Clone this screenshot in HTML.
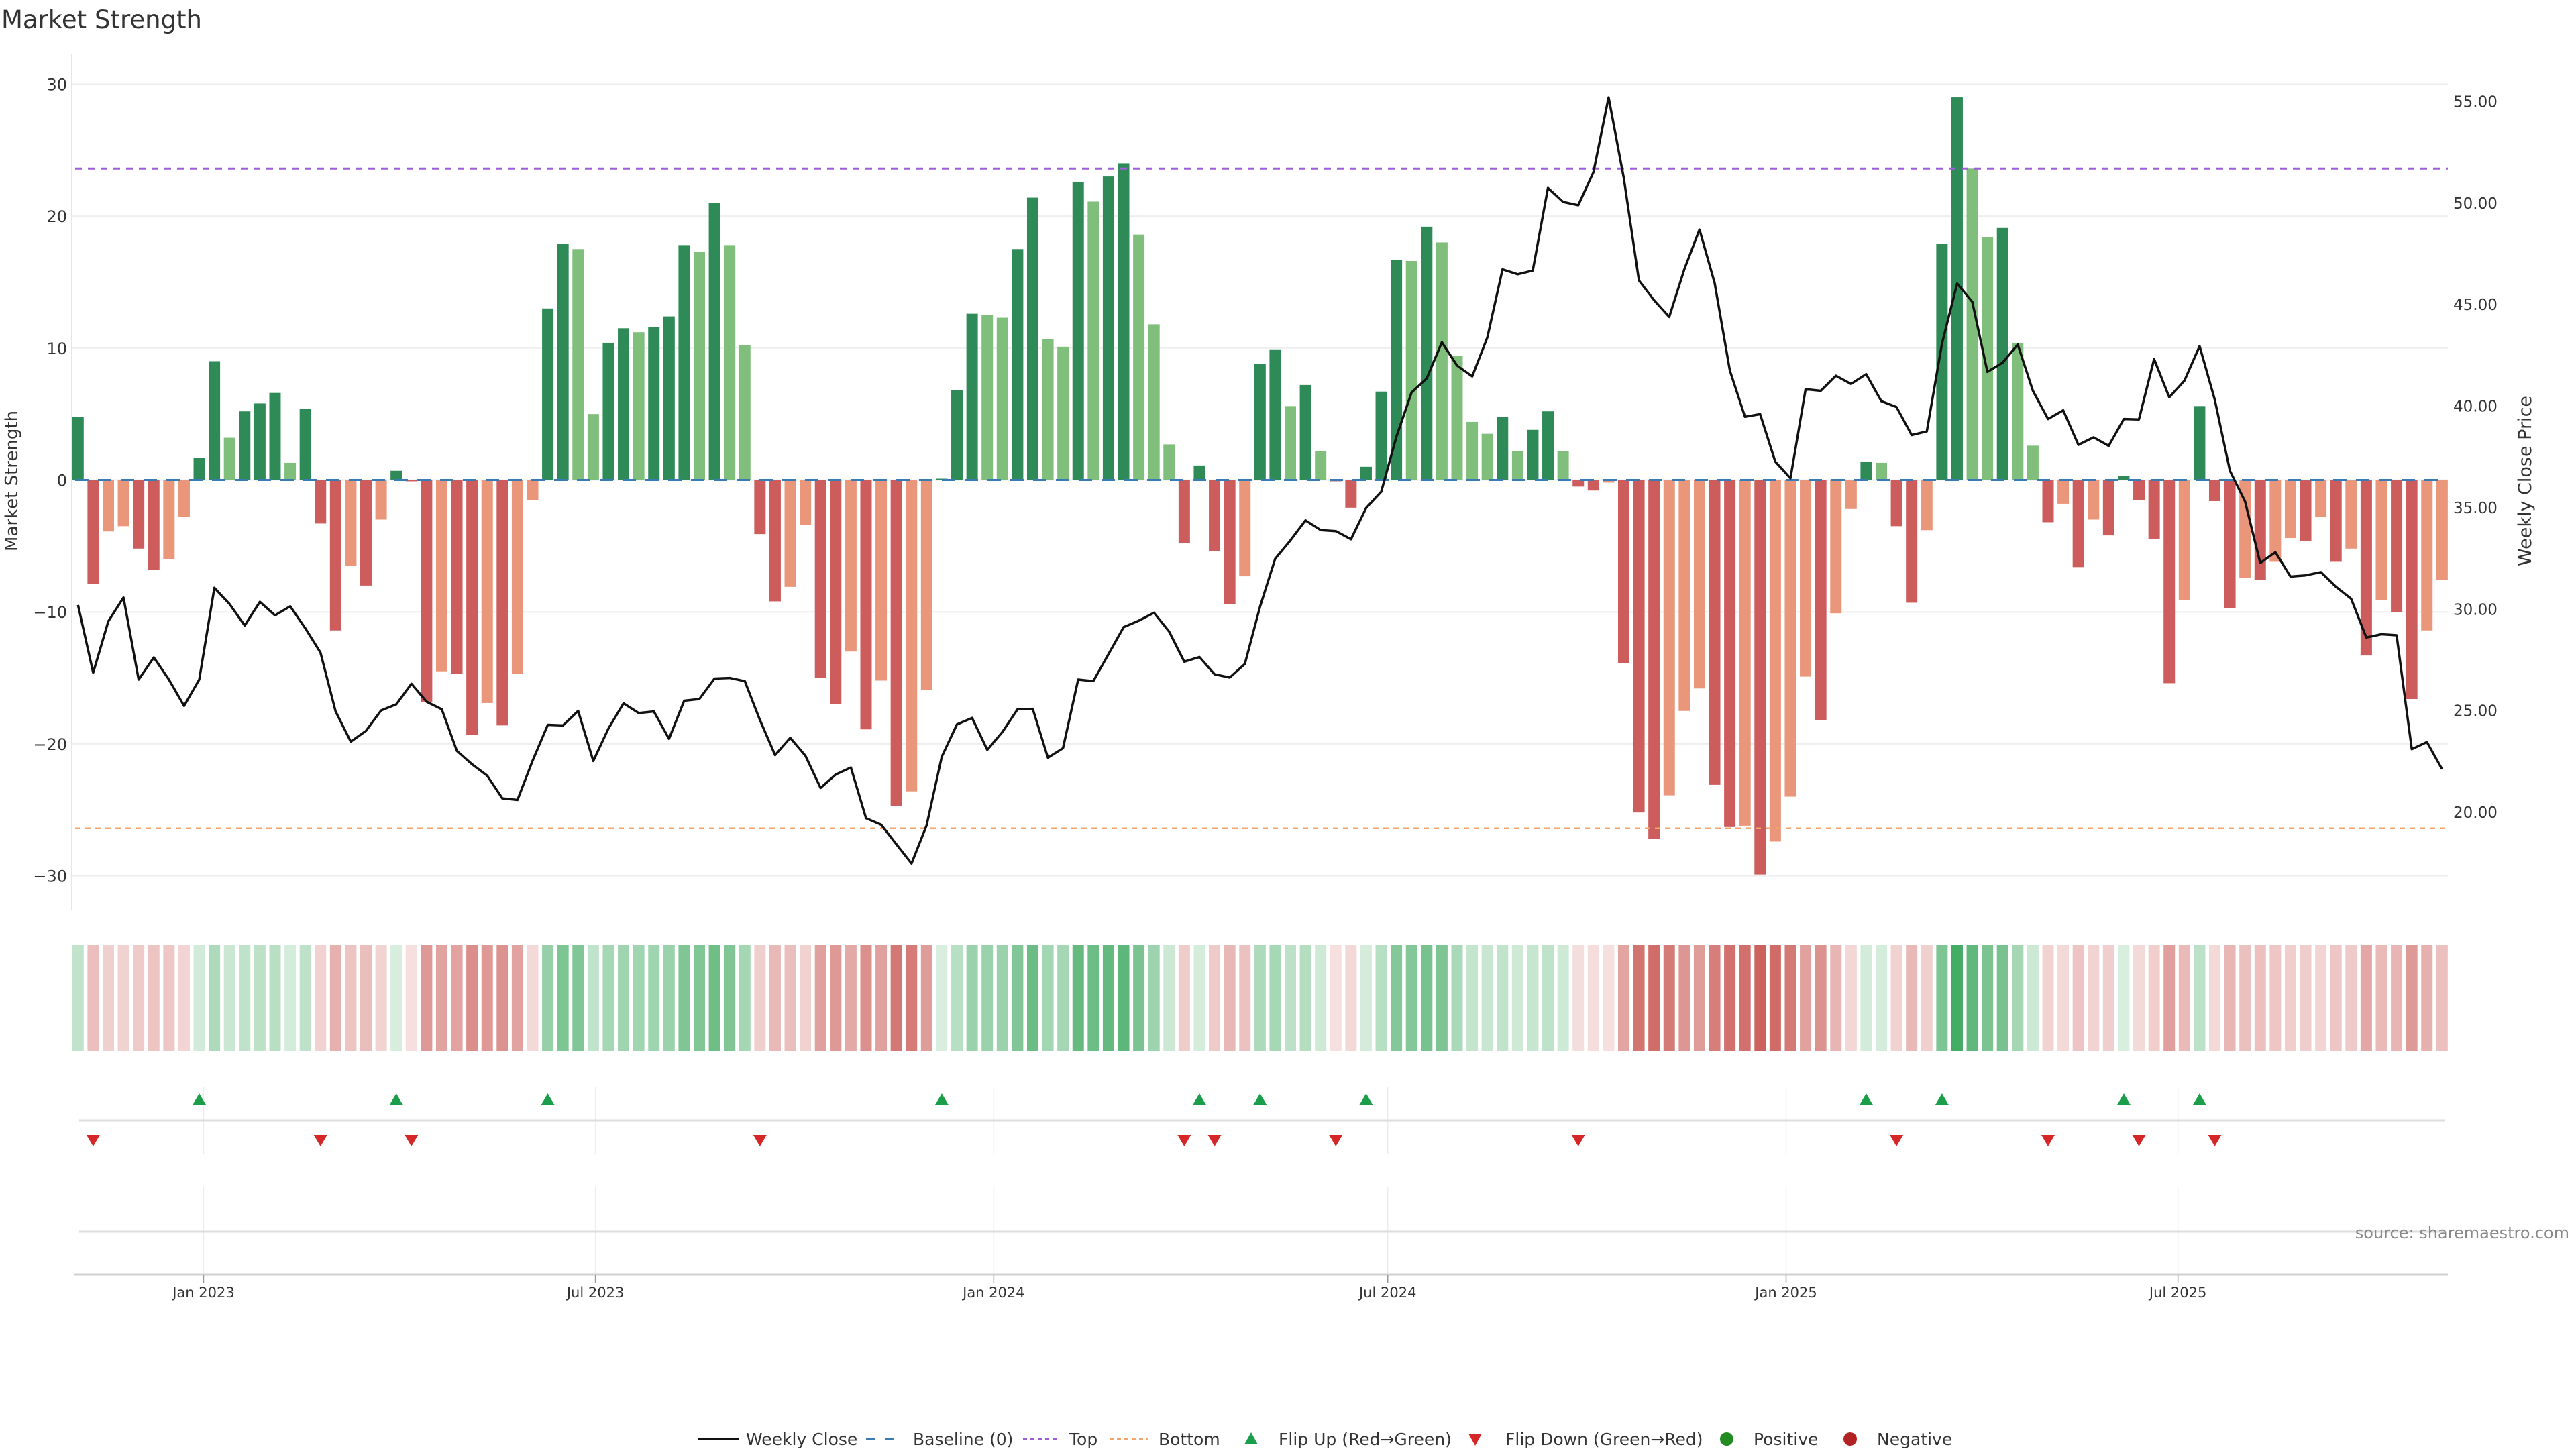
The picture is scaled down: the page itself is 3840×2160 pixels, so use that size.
<!DOCTYPE html>
<html>
<head>
<meta charset="utf-8">
<style>
  html,body{margin:0;padding:0;background:#fff;}
  svg{display:block;font-family:"DejaVu Sans","Liberation Sans",sans-serif;}
</style>
</head>
<body>
<svg id="chart" width="3840" height="2160" viewBox="0 0 3840 2160" xmlns="http://www.w3.org/2000/svg">
  <rect x="0" y="0" width="3840" height="2160" fill="#ffffff"/>
  <text x="2" y="42" font-size="37" fill="#333">Market Strength</text>
  <g id="grid"></g>
  <g id="heat"></g>
  <g id="bars"></g>
  <g id="refs"></g>
  <g id="line"></g>
  <g id="flips"></g>
  <g id="axes"></g>
  <text x="3830" y="1846" font-size="24" fill="#888" text-anchor="end">source: sharemaestro.com</text>
  <g id="legend"></g>
</svg>
<script>
// ---- data ----
const startDate = "2022-11-04";
const strength = [
 4.8,-7.9,-3.9,-3.5,-5.2,-6.8,-6.0,-2.8,1.7,9.0,
 3.2,5.2,5.8,6.6,1.3,5.4,-3.3,-11.4,-6.5,-8.0,
 -3.0,0.7,-0.1,-16.8,-14.5,-14.7,-19.3,-16.9,-18.6,-14.7,
 -1.5,13.0,17.9,17.5,5.0,10.4,11.5,11.2,11.6,12.4,
 17.8,17.3,21.0,17.8,10.2,-4.1,-9.2,-8.1,-3.4,-15.0,
 -17.0,-13.0,-18.9,-15.2,-24.7,-23.6,-15.9,0.1,6.8,12.6,
 12.5,12.3,17.5,21.4,10.7,10.1,22.6,21.1,23.0,24.0,
 18.6,11.8,2.7,-4.8,1.1,-5.4,-9.4,-7.3,8.8,9.9,
 5.6,7.2,2.2,-0.1,-2.1,1.0,6.7,16.7,16.6,19.2,
 18.0,9.4,4.4,3.5,4.8,2.2,3.8,5.2,2.2,-0.5,
 -0.8,-0.2,-13.9,-25.2,-27.2,-23.9,-17.5,-15.8,-23.1,-26.3,
 -26.2,-29.9,-27.4,-24.0,-14.9,-18.2,-10.1,-2.2,1.4,1.3,
 -3.5,-9.3,-3.8,17.9,29.0,23.6,18.4,19.1,10.4,2.6,
 -3.2,-1.8,-6.6,-3.0,-4.2,0.3,-1.5,-4.5,-15.4,-9.1,
 5.6,-1.6,-9.7,-7.4,-7.6,-6.2,-4.4,-4.6,-2.8,-6.2,
 -5.2,-13.3,-9.1,-10.0,-16.6,-11.4,-7.6
];
const closePrice = [
 30.21,26.88,29.41,30.58,26.54,27.63,26.54,25.24,26.54,31.06,
 30.26,29.20,30.37,29.70,30.15,29.06,27.87,24.97,23.48,24.01,
 25.02,25.32,26.33,25.45,25.08,23.03,22.37,21.81,20.69,20.61,
 22.55,24.31,24.28,25.00,22.53,24.12,25.37,24.89,24.97,23.62,
 25.50,25.58,26.59,26.62,26.46,24.55,22.82,23.67,22.79,21.20,
 21.86,22.21,19.71,19.39,18.43,17.48,19.36,22.74,24.33,24.65,
 23.08,23.96,25.08,25.10,22.69,23.16,26.54,26.46,27.79,29.12,
 29.44,29.83,28.90,27.42,27.65,26.80,26.64,27.31,30.13,32.49,
 33.39,34.38,33.90,33.85,33.45,34.99,35.79,38.50,40.68,41.37,
 43.15,42.00,41.47,43.39,46.74,46.50,46.68,50.75,50.06,49.90,
 51.52,55.21,51.25,46.20,45.22,44.40,46.74,48.70,46.07,41.77,
 39.48,39.61,37.27,36.45,40.84,40.76,41.50,41.10,41.58,40.25,
 39.96,38.58,38.76,43.09,46.04,45.14,41.69,42.14,43.04,40.76,
 39.37,39.80,38.10,38.47,38.05,39.37,39.35,42.32,40.44,41.26,
 42.96,40.33,36.82,35.31,32.28,32.81,31.61,31.67,31.83,31.11,
 30.52,28.61,28.77,28.72,23.11,23.46,22.13
];
const leftTicks = [30,20,10,0,-10,-20,-30];
const leftTickLabels = ["30","20","10","0","\u221210","\u221220","\u221230"];
const rightTicks = [55,50,45,40,35,30,25,20];
const rightTickLabels = ["55.00","50.00","45.00","40.00","35.00","30.00","25.00","20.00"];
const xTickDates = ["2023-01-01","2023-07-01","2024-01-01","2024-07-01","2025-01-01","2025-07-01"];
const xTickLabels = ["Jan 2023","Jul 2023","Jan 2024","Jul 2024","Jan 2025","Jul 2025"];
const topLevel = 23.6;
const bottomLevel = -26.4;

// ---- scales ----
const NS = "http://www.w3.org/2000/svg";
const X0 = 116.3, STEP = 22.59, BW = 17;
const PL = 107, PR = 3649;
function xIdx(i){ return X0 + STEP*i; }
function xDate(d){ const days=(new Date(d+"T00:00:00Z")-new Date(startDate+"T00:00:00Z"))/86400000; return X0 + days/7*STEP; }
function yL(v){ return 715.5 - 19.67*v; }
function yR(p){ return 151.5 + (55-p)*30.27; }
function mk(tag, attrs, parent){ const e=document.createElementNS(NS,tag); for(const k in attrs) e.setAttribute(k,attrs[k]); parent.appendChild(e); return e; }

const grid=document.getElementById('grid'), bars=document.getElementById('bars'), heat=document.getElementById('heat');
const refs=document.getElementById('refs'), lineG=document.getElementById('line'), flips=document.getElementById('flips');
const axes=document.getElementById('axes'), legend=document.getElementById('legend');

// grid & left ticks
leftTicks.forEach((v,k)=>{
  const g=mk('line',{x1:PL,x2:PR,y1:yL(v),y2:yL(v),stroke:'#eeeeee','stroke-width':2},grid);
  
  
  const t=mk('text',{x:100,y:yL(v)+9,'font-size':24,fill:'#333','text-anchor':'end'},axes);
  t.textContent=leftTickLabels[k];
  
  
});
rightTicks.forEach((p,k)=>{
  const t=mk('text',{x:3657,y:yR(p)+8,'font-size':23,fill:'#333'},axes);
  t.textContent=rightTickLabels[k];
  
  
});
const la=mk('line',{x1:PL,x2:PL,y1:80,y2:1356,stroke:'#e6e6e6','stroke-width':2},axes);


const lt=mk('text',{x:0,y:0,'font-size':26,fill:'#333','text-anchor':'middle',transform:'translate(26,717) rotate(-90)'},axes);
lt.textContent='Market Strength';


const rt=mk('text',{x:0,y:0,'font-size':27,fill:'#333','text-anchor':'middle',transform:'translate(3773,717) rotate(-90)'},axes);
rt.textContent='Weekly Close Price';



// bars + heatmap
strength.forEach((v,i)=>{
  const prev = i>0 ? strength[i-1] : null;
  const flip = prev===null || (prev>=0)!==(v>=0);
  const strong = flip || Math.abs(v) >= Math.abs(prev);
  let col;
  if(v>=0) col = strong ? '#2e8b57' : '#7fbf7b'; else col = strong ? '#cd5c5c' : '#e9967a';
  const y0=yL(0), y1=yL(v);
  const b=mk('rect',{x:xIdx(i)-BW/2,y:Math.min(y0,y1),width:BW,height:Math.max(1,Math.abs(y1-y0)),fill:col},bars);
  
  
  const a = Math.min(0.95, 0.18 + 0.75*Math.abs(v)/30);
  const hc = v>=0 ? 'rgba(49,163,84,'+a.toFixed(3)+')' : 'rgba(200,85,80,'+a.toFixed(3)+')';
  const h=mk('rect',{x:xIdx(i)-BW/2,y:1408,width:BW,height:158,fill:hc},heat);
  
  
  if(i>0 && flip){
    const cx=xIdx(i);
    if(v>=0){
      const tr=mk('polygon',{points:(cx-10)+','+1647+' '+(cx+10)+','+1647+' '+cx+','+1630,fill:'#1a9e4a'},flips);
      
      
    } else {
      const tr=mk('polygon',{points:(cx-10)+','+1692+' '+(cx+10)+','+1692+' '+cx+','+1709,fill:'#d62728'},flips);
      
      
    }
  }
});

// reference lines
const bl=mk('line',{x1:PL+5,x2:PR-5,y1:yL(0),y2:yL(0),stroke:'#3b7bb5','stroke-width':3,'stroke-dasharray':'20 14'},refs);


const tl=mk('line',{x1:PL+5,x2:PR,y1:yL(topLevel),y2:yL(topLevel),stroke:'#9b5fd8','stroke-width':3,'stroke-dasharray':'10 9'},refs);


const bt=mk('line',{x1:PL+5,x2:PR,y1:yL(bottomLevel),y2:yL(bottomLevel),stroke:'#f4a46a','stroke-width':2.5,'stroke-dasharray':'8 7'},refs);



// close line
const pts = closePrice.map((p,i)=>xIdx(i).toFixed(1)+','+yR(p).toFixed(1)).join(' ');
const pl=mk('polyline',{points:pts,fill:'none',stroke:'#111','stroke-width':3.5,'stroke-linejoin':'round'},lineG);



// lower panels
const mline=mk('line',{x1:118,x2:3644,y1:1670,y2:1670,stroke:'#dddddd','stroke-width':3},axes);


const pline=mk('line',{x1:118,x2:3644,y1:1836,y2:1836,stroke:'#dddddd','stroke-width':3},axes);


const xa=mk('line',{x1:110,x2:3649,y1:1900,y2:1900,stroke:'#d0d0d0','stroke-width':3},axes);


xTickDates.forEach((d,k)=>{
  const x=xDate(d);
  const v1=mk('line',{x1:x,x2:x,y1:1620,y2:1720,stroke:'#e8eef4','stroke-width':1.5},grid);
  
  
  const v2=mk('line',{x1:x,x2:x,y1:1769,y2:1900,stroke:'#e8eef4','stroke-width':1.5},grid);
  
  
  const tk=mk('line',{x1:x,x2:x,y1:1900,y2:1912,stroke:'#999','stroke-width':1.5},axes);
  
  
  const t=mk('text',{x:x,y:1934,'font-size':21,fill:'#333','text-anchor':'middle'},axes);
  t.textContent=xTickLabels[k];
  
  
});

// legend
function legText(x,s){
  const t=mk('text',{x:x,y:2154,'font-size':25,fill:'#333'},legend);
  t.textContent=s;
  
  
}
let e;
e=mk('line',{x1:1041,x2:1101,y1:2145,y2:2145,stroke:'#111','stroke-width':4},legend);


legText(1112,'Weekly Close');
e=mk('line',{x1:1291,x2:1347,y1:2145,y2:2145,stroke:'#3b7bb5','stroke-width':4,'stroke-dasharray':'14 14'},legend);


legText(1361,'Baseline (0)');
e=mk('line',{x1:1525,x2:1580,y1:2145,y2:2145,stroke:'#9b5fd8','stroke-width':4,'stroke-dasharray':'6 5'},legend);


legText(1594,'Top');
e=mk('line',{x1:1654,x2:1712,y1:2145,y2:2145,stroke:'#f4a46a','stroke-width':4,'stroke-dasharray':'6 5'},legend);


legText(1727,'Bottom');
e=mk('polygon',{points:'1855,2153 1875,2153 1865,2135',fill:'#1a9e4a'},legend);


legText(1906,'Flip Up (Red\u2192Green)');
e=mk('polygon',{points:'2189,2137 2209,2137 2199,2155',fill:'#d62728'},legend);


legText(2244,'Flip Down (Green\u2192Red)');
e=mk('circle',{cx:2574,cy:2145,r:10,fill:'#228b22'},legend);


legText(2614,'Positive');
e=mk('circle',{cx:2758,cy:2145,r:10,fill:'#b22222'},legend);


legText(2798,'Negative');
</script>
</body>
</html>
